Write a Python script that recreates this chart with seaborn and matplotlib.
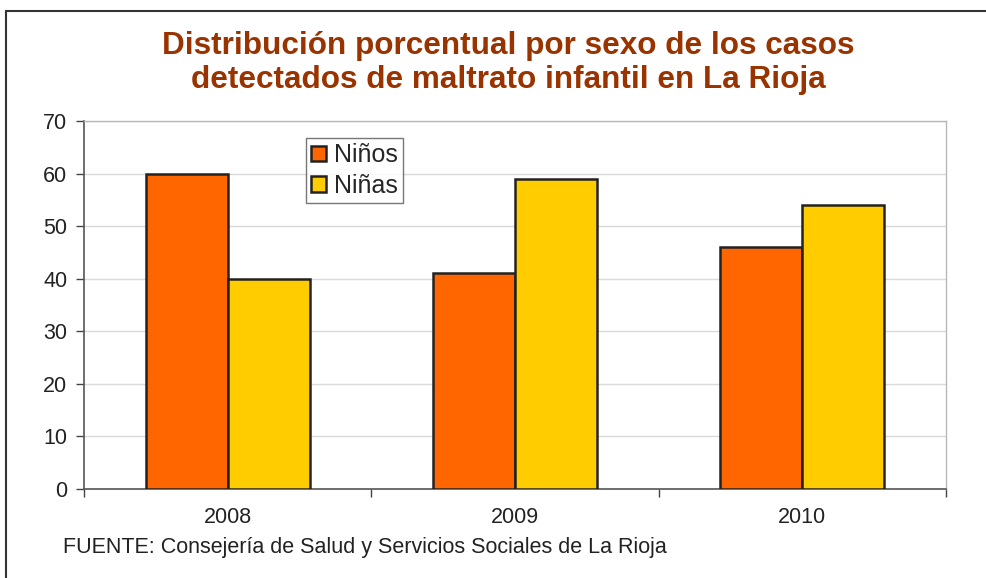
import seaborn as sns
import matplotlib.pyplot as plt
import matplotlib.lines as mlines
import pandas as pd

years = ["2008", "2009", "2010"]
ninos = [60, 41, 46]
ninas = [40, 59, 54]
series_names = ["Niños", "Niñas"]
yticks = [0, 10, 20, 30, 40, 50, 60, 70]

df = pd.DataFrame({
    "year": years * 2,
    "value": ninos + ninas,
    "sexo": [series_names[0]] * 3 + [series_names[1]] * 3,
})

sns.set_theme(style="white")
plt.rcParams['font.family'] = ['Liberation Sans', 'DejaVu Sans']

fig = plt.figure(figsize=(9.87, 5.78), dpi=100)
ax = fig.add_axes([84 / 987, 1 - 489 / 578, (946 - 84) / 987, (489 - 121) / 578])

sns.barplot(data=df, x="year", y="value", hue="sexo", ax=ax, width=0.57,
            palette={"Niños": "#FF6600", "Niñas": "#FFCC00"},
            edgecolor="#222222", linewidth=1.8, saturation=1, zorder=3)

ax.set_ylim(0, 70)
ax.set_xlim(-0.5, 2.5)
ax.set_yticks(yticks)
ax.yaxis.grid(True, color="#d9d9d9", linewidth=1, zorder=0)
ax.set_axisbelow(True)
ax.set_xlabel("")
ax.set_ylabel("")

# ticks at category boundaries
ax.set_xticks([0, 1, 2])
ax.set_xticks([-0.5, 0.5, 1.5, 2.5], minor=True)
ax.tick_params(axis="x", which="major", length=0, labelsize=15.5, pad=13, colors="#222222")
ax.tick_params(axis="x", which="minor", length=6, width=1, color="#444444", direction="out", bottom=True)
ax.tick_params(axis="y", length=6, width=1, color="#444444", direction="out", left=True,
               labelsize=15.5, pad=6, labelcolor="#222222")

for s in ["left", "bottom"]:
    ax.spines[s].set_color("#555555")
    ax.spines[s].set_linewidth(1.2)
for s in ["top", "right"]:
    ax.spines[s].set_color("#b8b8b8")
    ax.spines[s].set_linewidth(1)

leg = ax.legend(loc="upper left", bbox_to_anchor=(0.257, 0.953), fontsize=18,
                frameon=True, fancybox=False, edgecolor="#555555",
                handlelength=0.6, handleheight=0.6, handletextpad=0.35,
                borderpad=0.2, labelspacing=0.25, borderaxespad=0)
leg.get_frame().set_linewidth(1)
for h in leg.legend_handles:
    h.set_edgecolor("#222222")
    h.set_linewidth(1.8)

fig.text(0.515, 1 - 46 / 578, "Distribución porcentual por sexo de los casos",
         ha="center", va="center", fontsize=22.7, fontweight="bold", color="#993300")
fig.text(0.515, 1 - 80 / 578, "detectados de maltrato infantil en La Rioja",
         ha="center", va="center", fontsize=22.7, fontweight="bold", color="#993300")
fig.text(63 / 987, 1 - 548 / 578, "FUENTE: Consejería de Salud y Servicios Sociales de La Rioja",
         ha="left", va="center", fontsize=15.5, color="#222222")

# outer frame
fig.add_artist(mlines.Line2D([6 / 987, 6 / 987], [0, 1 - 11 / 578], color="#333333", linewidth=1.5))
fig.add_artist(mlines.Line2D([6 / 987, 1], [1 - 11 / 578, 1 - 11 / 578], color="#333333", linewidth=1.5))

fig.savefig("out.png", dpi=100)
